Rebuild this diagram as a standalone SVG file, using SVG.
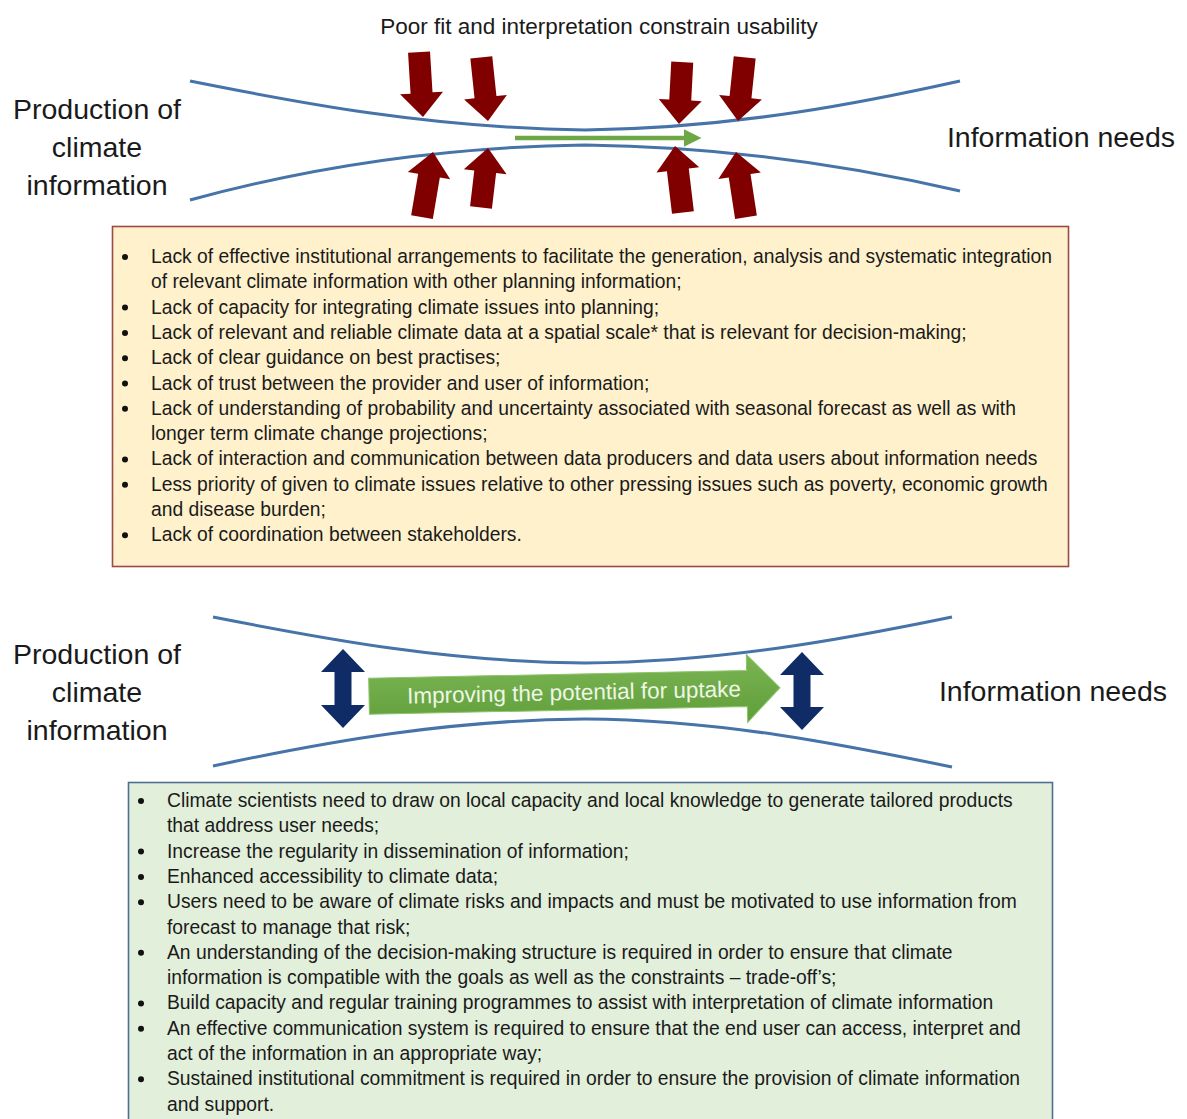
<svg xmlns="http://www.w3.org/2000/svg" width="1187" height="1119" viewBox="0 0 1187 1119">
<style>
.lbl{font-family:"Liberation Sans",Arial,sans-serif;font-size:28.5px;fill:#1a1a1a;text-anchor:middle}
.body{font-family:"Liberation Sans",Arial,sans-serif;font-size:19.3px;fill:#1a1a1a}
.curve{fill:none;stroke:#4673a8;stroke-width:3}
.red{fill:#800000}
.navy{fill:#0f2c66}
.dot{fill:#111}
</style>
<defs>
<linearGradient id="gg" x1="0" y1="0" x2="0" y2="1">
<stop offset="0" stop-color="#7bb553"/>
<stop offset="1" stop-color="#5f9e3a"/>
</linearGradient>
<marker id="gh" markerWidth="4" markerHeight="4" refX="1" refY="2" orient="auto" markerUnits="strokeWidth">
<path d="M0,0 L4,2 L0,4 Z" fill="#6ea846"/>
</marker>
</defs>
<rect width="1187" height="1119" fill="#ffffff"/>

<g id="title">
<text x="599" y="34" font-family="Liberation Sans, Arial, sans-serif" font-size="22.5" fill="#1a1a1a" text-anchor="middle">Poor fit and interpretation constrain usability</text>
</g>

<g id="production-top">
<text class="lbl" x="97" y="119">Production of</text>
<text class="lbl" x="97" y="157">climate</text>
<text class="lbl" x="97" y="195">information</text>
</g>
<g id="needs-top">
<text class="lbl" x="1061" y="147">Information needs</text>
</g>

<g id="connectors">
<path class="curve" d="M190,81 C300,103 430,128 585,130 C740,128 870,101 960,81"/>
<path class="curve" d="M190,200 C300,170 430,147 585,145 C740,147 870,170 960,191"/>
<line x1="515" y1="138" x2="688" y2="138" stroke="#6ea846" stroke-width="4.5" marker-end="url(#gh)"/>
<path class="red" d="M-11,-65 H11 V-24 H21.5 L0,0 L-21.5,-24 H-11 Z" transform="translate(423,117) rotate(-3.5)"/>
<path class="red" d="M-11,-64 H11 V-24 H21.5 L0,0 L-21.5,-24 H-11 Z" transform="translate(488,121) rotate(-6)"/>
<path class="red" d="M-11,-62 H11 V-24 H21.5 L0,0 L-21.5,-24 H-11 Z" transform="translate(679,124) rotate(3)"/>
<path class="red" d="M-11,-64 H11 V-24 H21.5 L0,0 L-21.5,-24 H-11 Z" transform="translate(738,121) rotate(6)"/>
<path class="red" d="M-11,-66 H11 V-24 H21.5 L0,0 L-21.5,-24 H-11 Z" transform="translate(433,152) rotate(189.6)"/>
<path class="red" d="M-11,-60 H11 V-24 H21.5 L0,0 L-21.5,-24 H-11 Z" transform="translate(488,148) rotate(186.7)"/>
<path class="red" d="M-11,-67 H11 V-24 H21.5 L0,0 L-21.5,-24 H-11 Z" transform="translate(675,146) rotate(173.2)"/>
<path class="red" d="M-11,-66 H11 V-24 H21.5 L0,0 L-21.5,-24 H-11 Z" transform="translate(736,152) rotate(171.3)"/>

<path class="curve" d="M213,617 C330,640 450,662 585,663 C720,662 840,640 952,617"/>
<path class="curve" d="M213,766 C330,741 450,720 585,719 C720,720 840,744 952,767"/>
<path class="navy" d="M343,649 L365,672 L351.5,672 L351.5,705 L365,705 L343,728 L321,705 L334.5,705 L334.5,672 L321,672 Z"/>
<path class="navy" d="M802,652 L824,675 L810.5,675 L810.5,707 L824,707 L802,730 L780,707 L793.5,707 L793.5,675 L780,675 Z"/>
</g>

<g id="uptake-arrow" transform="rotate(-1.2 575 692)">
<path d="M369,674 H747 V658 L780,692 L747,726 V710 H369 Z" fill="url(#gg)" stroke="#8cc46a" stroke-width="1"/>
<text x="574" y="700" font-family="Liberation Sans, Arial, sans-serif" font-size="22.5" fill="#eef6e6" text-anchor="middle">Improving the potential for uptake</text>
</g>

<g id="production-bottom">
<text class="lbl" x="97" y="664">Production of</text>
<text class="lbl" x="97" y="702">climate</text>
<text class="lbl" x="97" y="740">information</text>
</g>
<g id="needs-bottom">
<text class="lbl" x="1053" y="701">Information needs</text>
</g>

<g id="barriers-box">
<rect x="112.5" y="226.5" width="956" height="340" fill="#fff1cc" stroke="#9c4a45" stroke-width="1.6"/>
<g class="body">
<circle class="dot" cx="125" cy="257" r="3"/>
<text x="151" y="263">Lack of effective institutional arrangements to facilitate the generation, analysis and systematic integration</text>
<text x="151" y="288.3">of relevant climate information with other planning information;</text>
<circle class="dot" cx="125" cy="307.6" r="3"/>
<text x="151" y="313.6">Lack of capacity for integrating climate issues into planning;</text>
<circle class="dot" cx="125" cy="332.9" r="3"/>
<text x="151" y="338.9">Lack of relevant and reliable climate data at a spatial scale* that is relevant for decision-making;</text>
<circle class="dot" cx="125" cy="358.2" r="3"/>
<text x="151" y="364.2">Lack of clear guidance on best practises;</text>
<circle class="dot" cx="125" cy="383.5" r="3"/>
<text x="151" y="389.5">Lack of trust between the provider and user of information;</text>
<circle class="dot" cx="125" cy="408.8" r="3"/>
<text x="151" y="414.8">Lack of understanding of probability and uncertainty associated with seasonal forecast as well as with</text>
<text x="151" y="440.1">longer term climate change projections;</text>
<circle class="dot" cx="125" cy="459.4" r="3"/>
<text x="151" y="465.4">Lack of interaction and communication between data producers and data users about information needs</text>
<circle class="dot" cx="125" cy="484.7" r="3"/>
<text x="151" y="490.7">Less priority of given to climate issues relative to other pressing issues such as poverty, economic growth</text>
<text x="151" y="516">and disease burden;</text>
<circle class="dot" cx="125" cy="535.3" r="3"/>
<text x="151" y="541.3">Lack of coordination between stakeholders.</text>
</g>
</g>

<g id="solutions-box">
<rect x="128.5" y="782.5" width="924" height="345" fill="#e2efda" stroke="#4d7092" stroke-width="1.6"/>
<g class="body">
<circle class="dot" cx="141" cy="801" r="3"/>
<text x="167" y="807">Climate scientists need to draw on local capacity and local knowledge to generate tailored products</text>
<text x="167" y="832.3">that address user needs;</text>
<circle class="dot" cx="141" cy="851.6" r="3"/>
<text x="167" y="857.6">Increase the regularity in dissemination of information;</text>
<circle class="dot" cx="141" cy="876.9" r="3"/>
<text x="167" y="882.9">Enhanced accessibility to climate data;</text>
<circle class="dot" cx="141" cy="902.2" r="3"/>
<text x="167" y="908.2">Users need to be aware of climate risks and impacts and must be motivated to use information from</text>
<text x="167" y="933.5">forecast to manage that risk;</text>
<circle class="dot" cx="141" cy="952.8" r="3"/>
<text x="167" y="958.8">An understanding of the decision-making structure is required in order to ensure that climate</text>
<text x="167" y="984.1">information is compatible with the goals as well as the constraints – trade-off’s;</text>
<circle class="dot" cx="141" cy="1003.4" r="3"/>
<text x="167" y="1009.4">Build capacity and regular training programmes to assist with interpretation of climate information</text>
<circle class="dot" cx="141" cy="1028.7" r="3"/>
<text x="167" y="1034.7">An effective communication system is required to ensure that the end user can access, interpret and</text>
<text x="167" y="1060">act of the information in an appropriate way;</text>
<circle class="dot" cx="141" cy="1079.3" r="3"/>
<text x="167" y="1085.3">Sustained institutional commitment is required in order to ensure the provision of climate information</text>
<text x="167" y="1110.6">and support.</text>
</g>
</g>
</svg>
